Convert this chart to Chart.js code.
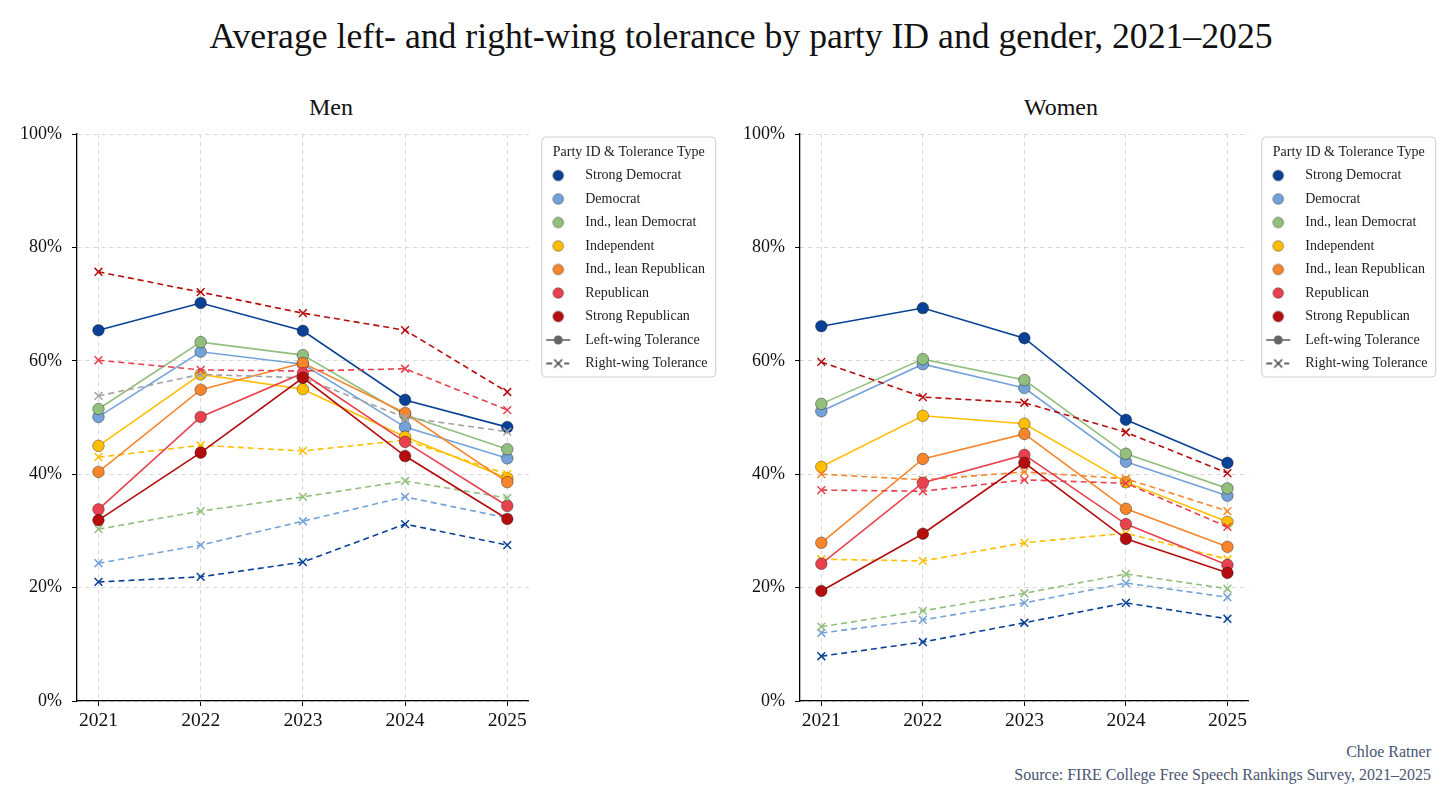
<!DOCTYPE html>
<html lang="en">
<head>
<meta charset="UTF-8">
<title>Average left- and right-wing tolerance by party ID and gender, 2021–2025</title>
<script src="https://cdn.jsdelivr.net/npm/chart.js"></script>
<style>
  html, body { margin: 0; padding: 0; background: #fff; }
  body { width: 1456px; height: 804px; position: relative; overflow: hidden;
         font-family: 'Liberation Serif', serif; color: #111; }
  .title { position: absolute; left: 13px; top: 15px; width: 1456px; text-align: center;
           font-size: 35.7px; line-height: 42px; }
  .sub { position: absolute; top: 92px; width: 200px; text-align: center;
         font-size: 24px; line-height: 30px; }
  .panel { position: absolute; top: 0; height: 740px; width: 740px; }
  .credit { position: absolute; right: 25px; text-align: right; font-size: 16px;
            line-height: 20px; color: #4b5473; }
</style>
</head>
<body>
  <div class="title">Average left- and right-wing tolerance by party ID and gender, 2021–2025</div>
  <div class="sub" style="left:231px">Men</div>
  <div class="sub" style="left:961px">Women</div>

  <div class="panel" id="menBox" style="left:0px"><canvas id="men"></canvas></div>
  <div class="panel" id="womenBox" style="left:723px"><canvas id="women"></canvas></div>

  <div class="credit" style="top:742px">Chloe Ratner</div>
  <div class="credit" style="top:765px">Source: FIRE College Free Speech Rankings Survey, 2021–2025</div>

<script>
// data (percent), rows follow party order
const years = [2021, 2022, 2023, 2024, 2025];
const yTicks = [0, 20, 40, 60, 80, 100];
const parties = ['Strong Democrat', 'Democrat', 'Ind., lean Democrat', 'Independent',
                 'Ind., lean Republican', 'Republican', 'Strong Republican'];

const menLeft = [
  [65.4, 70.2, 65.3, 53.1, 48.3],
  [50.1, 61.6, 59.4, 48.3, 42.8],
  [51.5, 63.3, 61.0, 50.5, 44.4],
  [45.0, 57.6, 55.0, 46.6, 39.3],
  [40.4, 54.9, 59.6, 50.8, 38.6],
  [33.8, 50.1, 57.8, 45.7, 34.4],
  [31.9, 43.8, 57.0, 43.2, 32.1]
];
const menRight = [
  [21.0, 21.9, 24.5, 31.2, 27.5],
  [24.3, 27.5, 31.7, 36.0, 32.3],
  [30.3, 33.5, 36.0, 38.8, 35.8],
  [43.0, 45.1, 44.1, 46.0, 40.0],
  [53.8, 57.6, 57.0, 50.0, 47.5],
  [60.1, 58.4, 58.2, 58.6, 51.3],
  [75.7, 72.1, 68.4, 65.4, 54.5]
];
const womenLeft = [
  [66.1, 69.3, 64.0, 49.6, 42.0],
  [51.1, 59.4, 55.2, 42.2, 36.2],
  [52.4, 60.3, 56.6, 43.6, 37.5],
  [41.3, 50.3, 48.9, 38.6, 31.6],
  [27.9, 42.7, 47.1, 33.9, 27.2],
  [24.2, 38.5, 43.4, 31.2, 24.0],
  [19.4, 29.5, 42.0, 28.6, 22.6]
];
const womenRight = [
  [7.9, 10.4, 13.8, 17.3, 14.5],
  [12.0, 14.3, 17.3, 20.8, 18.3],
  [13.1, 15.9, 19.0, 22.4, 19.8],
  [25.0, 24.7, 27.9, 29.6, 25.0],
  [40.0, 39.0, 40.4, 39.2, 33.5],
  [37.2, 37.0, 39.0, 38.4, 30.7],
  [59.8, 53.6, 52.6, 47.4, 40.2]
];

const FONT = "'Liberation Serif', serif";
const colors = ['#0a4195', '#74a2d9', '#93bf7e', '#ffbf00', '#f7852c', '#e8424f', '#b40d0d'];
const edge = 'rgba(0,0,0,0.45)';
const legendTitle = 'Party ID & Tolerance Type';

Chart.defaults.font.family = FONT;
Chart.defaults.color = '#111';

// legend marker pictures
function marker(draw) {
  const c = document.createElement('canvas');
  c.width = 40; c.height = 14;
  draw(c.getContext('2d'));
  return c;
}
const MX = 20;
const dotImg = col => marker(g => {
  g.beginPath(); g.arc(MX, 7, 5.3, 0, Math.PI * 2);
  g.fillStyle = col; g.fill();
  g.lineWidth = 0.8; g.strokeStyle = edge; g.stroke();
});
const leftImg = marker(g => {
  g.strokeStyle = '#666'; g.lineWidth = 1.6;
  g.beginPath(); g.moveTo(MX - 12, 7); g.lineTo(MX + 12, 7); g.stroke();
  g.beginPath(); g.arc(MX, 7, 4.5, 0, Math.PI * 2); g.fillStyle = '#666'; g.fill();
});
const rightImg = marker(g => {
  g.strokeStyle = '#333'; g.lineWidth = 1.3;
  g.beginPath(); g.moveTo(MX - 12, 7); g.lineTo(MX - 6, 7); g.moveTo(MX + 6, 7); g.lineTo(MX + 11, 7); g.stroke();
  g.beginPath(); g.moveTo(MX - 4, 3); g.lineTo(MX + 4, 11); g.moveTo(MX + 4, 3); g.lineTo(MX - 4, 11); g.stroke();
});

const legendItems = parties.map((p, i) => ({ text: p, pointStyle: dotImg(colors[i]) }))
  .concat([{ text: 'Left-wing Tolerance', pointStyle: leftImg },
           { text: 'Right-wing Tolerance', pointStyle: rightImg }])
  .map(it => Object.assign(it, { fontColor: '#222', fillStyle: 'transparent',
                                 strokeStyle: 'transparent', lineWidth: 0, hidden: false }));

// rounded frame + centred title for the legend
const legendFrame = {
  id: 'legendFrame',
  beforeDraw(chart) {
    const lg = chart.legend, ctx = chart.ctx;
    const fx = lg.left + 13, fy = lg.top + 3, fw = 174, fh = 240;
    ctx.save();
    ctx.beginPath();
    ctx.roundRect(fx, fy, fw, fh, 4);
    ctx.fillStyle = '#fff'; ctx.fill();
    ctx.strokeStyle = '#cfcfcf'; ctx.lineWidth = 1; ctx.stroke();
    ctx.fillStyle = '#222';
    ctx.font = '14px ' + FONT;
    ctx.textAlign = 'center'; ctx.textBaseline = 'middle';
    ctx.fillText(legendTitle, fx + fw / 2, lg.top + 18);
    ctx.restore();
  }
};

function makePanel(id, boxId, boxLeft, plotRight, left, right, rightColors) {
  const datasets = [];
  parties.forEach((p, i) => {
    const lc = colors[i], rc = rightColors[i] || colors[i];
    datasets.push({
      label: p + ' (left)',
      data: years.map((yr, j) => ({ x: yr, y: left[i][j] })),
      borderColor: lc, backgroundColor: lc, borderWidth: 1.6,
      pointStyle: 'circle', pointRadius: 5.8, pointBorderColor: edge, pointBorderWidth: 0.8,
      order: -2 * i
    });
    datasets.push({
      label: p + ' (right)',
      data: years.map((yr, j) => ({ x: yr, y: right[i][j] })),
      borderColor: rc, backgroundColor: rc, borderWidth: 1.6, borderDash: [6, 4],
      pointStyle: 'crossRot', pointRadius: 5.5, pointBorderColor: rc, pointBorderWidth: 1.5,
      order: -2 * i - 1
    });
  });

  const grid = { color: '#d8d8d8', lineWidth: 1, tickColor: '#000', tickLength: 5, tickWidth: 1 };
  const border = { display: true, color: '#000', width: 1.3, dash: [4, 4] };

  const chart = new Chart(document.getElementById(id), {
    type: 'line',
    data: { datasets },
    options: {
      responsive: true, maintainAspectRatio: false, animation: false, events: [],
      layout: { padding: { top: 134, left: 0, right: 20, bottom: 0 } },
      elements: { line: { tension: 0 } },
      scales: {
        x: {
          type: 'linear', min: 2020.79, max: 2025.21,
          afterBuildTicks: s => { s.ticks = years.map(v => ({ value: v })); },
          afterFit: s => { s.height = 39; },
          ticks: { callback: v => String(v), font: { size: 19.5 }, color: '#111', padding: 3, maxRotation: 0 },
          grid, border
        },
        y: {
          min: 0, max: 100,
          afterBuildTicks: s => { s.ticks = yTicks.map(v => ({ value: v })); },
          afterFit: s => { s.width = 77; },
          ticks: { callback: v => v + '%', font: { size: 18 }, color: '#111', padding: 10 },
          grid, border
        }
      },
      plugins: {
        tooltip: { enabled: false },
        legend: {
          position: 'right', align: 'start',
          title: { display: true, text: '', font: { size: 14, lineHeight: 1 }, padding: { top: 11, bottom: 0 } },
          labels: { usePointStyle: true, pointStyleWidth: 40, padding: 9.5,
                    font: { size: 14 }, color: '#222', generateLabels: () => legendItems }
        }
      }
    },
    plugins: [legendFrame]
  });

  // the legend box clips its own text; the frame gives it room, so draw it unclipped
  chart.legend.draw = function () { if (this.options.display) this._draw(); };

  // size the box so the plot ends where it should, then re-layout
  document.getElementById(boxId).style.width = Math.round(plotRight - boxLeft + chart.legend.width + 20) + 'px';
  chart.resize();
  return chart;
}

makePanel('men', 'menBox', 0, 525, menLeft, menRight, [null, null, null, null, '#a3a3a3', null, null]);
makePanel('women', 'womenBox', 723, 1244, womenLeft, womenRight, []);
</script>
</body>
</html>
